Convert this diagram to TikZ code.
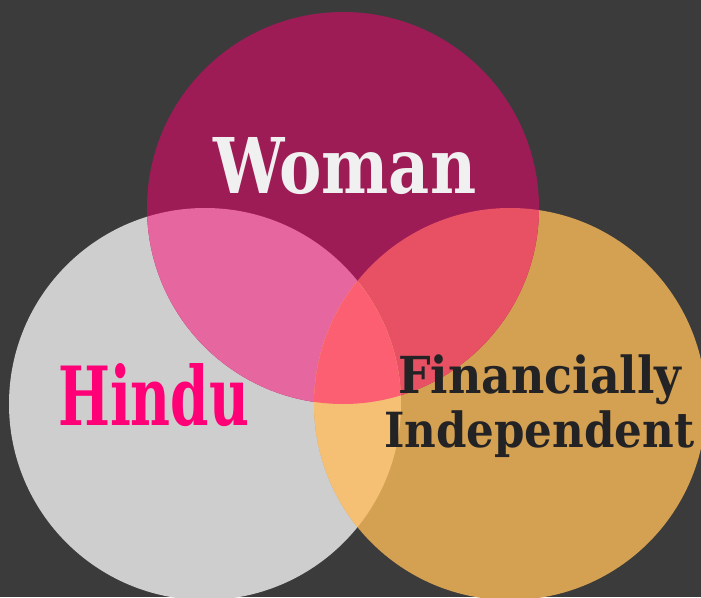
\documentclass[tikz,border=0pt]{standalone}
\usepackage{fontspec}
\usepackage{graphicx}
\setmainfont{DejaVu Serif}
\newfontfamily\condfont{DejaVu Serif Condensed}
\definecolor{bgc}{HTML}{3B3B3B}
\definecolor{womanc}{HTML}{9E1C56}
\definecolor{hinduc}{HTML}{CECECE}
\definecolor{finc}{HTML}{D4A052}
\definecolor{whc}{HTML}{E667A0}
\definecolor{wfc}{HTML}{E85164}
\definecolor{hfc}{HTML}{F5C074}
\definecolor{allc}{HTML}{FC5F72}
\definecolor{womantext}{HTML}{F0F0F0}
\definecolor{hindutext}{HTML}{FF0077}
\definecolor{fintext}{HTML}{232326}
\begin{document}
\begin{tikzpicture}[x=1pt,y=-1pt,
  lbl/.style={inner sep=0pt, anchor=base west}]
\useasboundingbox (0,0) rectangle (701,597);
\fill[bgc] (0,0) rectangle (701,597);
\def\Wc{(343,208) circle (196)}
\def\Hc{(205,404) circle (196)}
\def\Fc{(510,404) circle (196)}
\begin{scope}
\clip (0,0) rectangle (701,597);
\fill[hinduc] \Hc;
\fill[finc] \Fc;
\fill[womanc] \Wc;
\begin{scope}\clip \Wc; \fill[whc] \Hc; \end{scope}
\begin{scope}\clip \Wc; \fill[wfc] \Fc; \end{scope}
\begin{scope}\clip \Hc; \fill[hfc] \Fc; \end{scope}
\begin{scope}\clip \Wc; \clip \Hc; \fill[allc] \Fc; \end{scope}
\end{scope}
\node[lbl, text=womantext] (woman) at (213,193) {\resizebox{263pt}{56pt}{\bfseries Woman}};
\node[lbl, text=hindutext] (hindu) at (58,425) {\resizebox{191pt}{62pt}{\bfseries Hindu}};
\node[lbl, text=fintext] (fin) at (398,393) {\resizebox{283pt}{!}{\condfont\bfseries Financially}};
\node[lbl, text=fintext] (ind) at (384,447) {\resizebox{310pt}{!}{\condfont\bfseries Independent}};
\end{tikzpicture}
\end{document}
